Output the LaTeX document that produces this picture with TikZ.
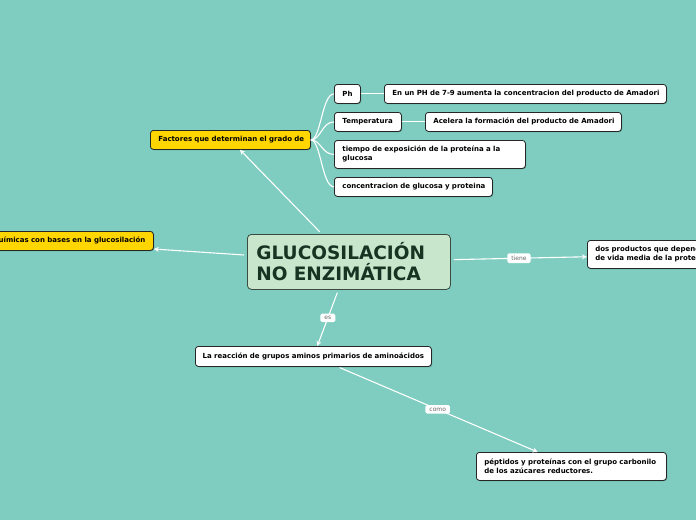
\documentclass[tikz,border=0pt]{standalone}
\usepackage{fontspec}
\setmainfont{DejaVu Sans}
\usetikzlibrary{arrows.meta,shadows}
\definecolor{bg}{RGB}{126,205,192}
\definecolor{gold}{RGB}{255,214,0}
\definecolor{mainfill}{RGB}{200,230,204}
\definecolor{maintext}{RGB}{22,52,34}
\definecolor{mainborder}{RGB}{60,75,65}
\begin{document}
\begin{tikzpicture}[x=1pt,y=-1pt,
 box/.style={draw=black!85, fill=white, rounded corners=3pt, line width=0.8pt,
   font=\bfseries\fontsize{7}{9}\selectfont, inner xsep=8pt, inner ysep=0pt,
   anchor=north west, align=left,
   drop shadow={shadow xshift=0.7pt,shadow yshift=-0.7pt,fill=black,opacity=0.35}},
 ybox/.style={box, fill=gold},
 mainbox/.style={draw=mainborder, fill=mainfill, rounded corners=4pt, line width=0.8pt,
   font=\bfseries\fontsize{18.5}{21}\selectfont, text=maintext, inner xsep=9pt, inner ysep=0pt,
   anchor=north west, align=left, text width=185pt, minimum height=55pt},
 link/.style={draw=white, line width=1.1pt, -{Stealth[length=5pt,width=5pt]}},
 branch/.style={draw=white, line width=1.1pt},
 lbl/.style={fill=white, rounded corners=1.5pt, font=\fontsize{6}{7}\selectfont,
   text=black!60, inner xsep=4pt, inner ysep=2.5pt}
]
\useasboundingbox (0,0) rectangle (696,520);
\clip (0,0) rectangle (696,520);
\fill[bg] (0,0) rectangle (696,520);

\node[mainbox] (main) at (247,234) {\mbox{GLUCOSILACIÓN}\\\mbox{NO ENZIMÁTICA}};

\node[ybox, text width=144pt, minimum height=19pt] (fact) at (150,130) {\mbox{Factores que determinan el grado de}};
\node[ybox, text width=230pt, minimum height=19pt, align=right] (quim) at (-93,231) {\makebox[230pt][r]{químicas con bases en la glucosilación}};

\node[box, text width=10pt, minimum height=19pt] (ph) at (334,84) {\mbox{Ph}};
\node[box, text width=266pt, minimum height=19pt] (en) at (384,84) {\mbox{En un PH de 7-9 aumenta la concentracion del producto de Amadori}};
\node[box, text width=51pt, minimum height=19pt] (temp) at (334,112) {\mbox{Temperatura}};
\node[box, text width=180pt, minimum height=19pt] (acel) at (425,112) {\mbox{Acelera la formación del producto de Amadori}};
\node[box, text width=175pt, minimum height=28pt] (tiempo) at (334,140) {\mbox{tiempo de exposición de la proteína a la}\\\mbox{glucosa}};
\node[box, text width=142pt, minimum height=19pt] (conc) at (334,177) {\mbox{concentracion de glucosa y proteina}};

\node[box, text width=200pt, minimum height=28pt] (dos) at (587,240) {\mbox{dos productos que dependen}\\\mbox{de vida media de la proteína}};
\node[box, text width=220pt, minimum height=20pt, align=center] (reac) at (195,346) {\makebox[220pt]{La reacción de grupos aminos primarios de aminoácidos}};
\node[box, text width=174pt, minimum height=28pt] (pep) at (476,452) {\mbox{péptidos y proteínas con el grupo carbonilo}\\\mbox{de los azúcares reductores.}};

\draw[branch] (fact.east) .. controls +(10,0) and +(-12,0) .. (ph.west);
\draw[branch] (fact.east) .. controls +(10,0) and +(-12,0) .. (temp.west);
\draw[branch] (fact.east) .. controls +(10,0) and +(-12,0) .. (tiempo.west);
\draw[branch] (fact.east) .. controls +(10,0) and +(-12,0) .. (conc.west);
\draw[branch] (ph) -- (en);
\draw[branch] (temp) -- (acel);

\draw[link, shorten <=3pt] (main) -- (fact);
\draw[link, shorten <=3pt] (main) -- (quim);
\draw[link, shorten <=3pt] (main) -- node[lbl] {tiene} (dos);
\draw[link, shorten <=3pt] (main) -- node[lbl] {es} (reac);
\draw[link, shorten <=2pt] (reac) -- node[lbl] {como} (pep);
\end{tikzpicture}
\end{document}
